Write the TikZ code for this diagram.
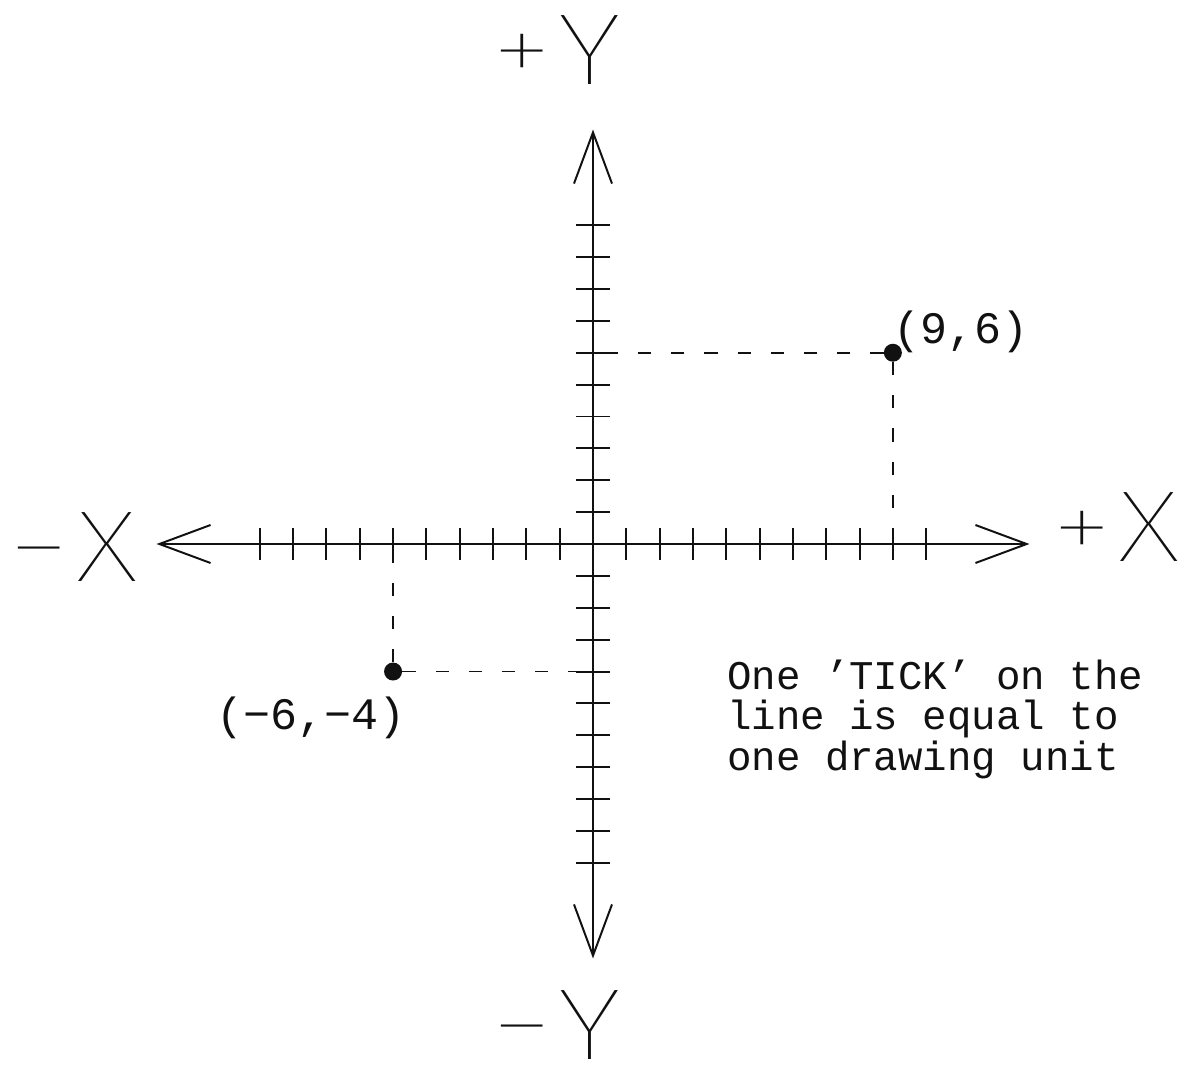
\documentclass[tikz,border=0pt]{standalone}
\usepackage{fontspec}
\setmonofont{Liberation Mono}
\newfontfamily\thinfont{Fira Sans Thin}[FakeStretch=1.25]
\usepackage{tikz}
\usetikzlibrary{arrows.meta}
\definecolor{Ink}{HTML}{111111}
\tikzset{
  axisLine/.style={line width=1.4pt,draw=Ink,>={Straight Barb[length=1.28cm,width=0.95cm]},<->},
  tickMark/.style={line width=1.4pt,draw=Ink},
  guide/.style={line width=1.3pt,draw=Ink,dash pattern=on 0.33cm off 0.5cm},
  dotPt/.style={circle,fill=Ink,inner sep=0pt,minimum size=0.45cm},
  bigLabel/.style={inner sep=0pt,text=Ink,font=\thinfont\fontsize{72}{76}\selectfont},
  ptLabel/.style={inner sep=0pt,text=Ink,font=\ttfamily\fontsize{32}{34}\selectfont},
  note/.style={inner sep=0pt,align=left,text=Ink,font=\ttfamily\fontsize{29}{28.5}\selectfont}
}
\begin{document}
\begin{tikzpicture}[x=0.833cm,y=0.797cm]
\useasboundingbox (-14.825cm,-13cm) rectangle (14.875cm,13.6cm);
% axes
\coordinate (o) at (0,0);
\coordinate (xneg) at (-13.1,0); \coordinate (xpos) at (13.1,0);
\coordinate (yneg) at (0,-13); \coordinate (ypos) at (0,13);
\draw[axisLine] (xneg)--(xpos); \draw[axisLine] (yneg)--(ypos);
\foreach \i in {1,...,10}{
  \draw[tickMark] (\i,-0.5)--(\i,0.5) (-\i,-0.5)--(-\i,0.5);
  \draw[tickMark] (-0.5,\i)--(0.5,\i) (-0.5,-\i)--(0.5,-\i);
}
\node[bigLabel] (ypLbl) at (-1.1,15.5) {+\kern0.06em Y};
\node[bigLabel] (ynLbl) at (-1.1,-15.08) {−\kern0.06em Y};
\node[bigLabel] (xnLbl) at (-15.6,-0.1) {−\kern0.06em X};
\node[bigLabel] (xpLbl) at (15.7,0.52) {+\kern0.06em X};
% points
\node[dotPt] (pa) at (9,6) {};
\node[dotPt] (pb) at (-6,-4) {};
\coordinate (pax) at (9,0); \coordinate (pay) at (0,6);
\coordinate (pbx) at (-6,0); \coordinate (pby) at (0,-4);
\draw[guide] (pa)--(pay); \draw[guide] (pa)--(pax);
\draw[guide] (pb)--(pby); \draw[guide] (pb)--(pbx);
\node[ptLabel,anchor=south west] (paLbl) at (pa.center) {(9,6)};
\node[ptLabel] (pbLbl) at (-8.45,-5.45) {(−6,−4)};
\node[note,anchor=north west] (noteTxt) at (4.02,-3.64) {One ’TICK’ on the\\line is equal to\\one drawing unit};
\end{tikzpicture}
\end{document}
